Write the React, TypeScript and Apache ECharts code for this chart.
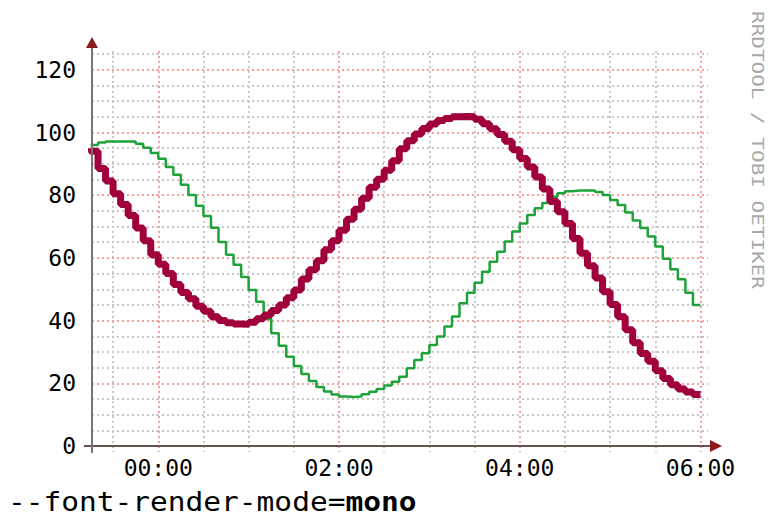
import React, { useEffect, useRef } from "react";
import * as echarts from "echarts";

// minutes relative to 00:00, one sample every 5 minutes
const TIMES = [
  -45, -40, -35, -30, -25, -20, -15, -10, -5, 0, 5, 10, 15, 20, 25, 30, 35, 40, 45, 50,
  55, 60, 65, 70, 75, 80, 85, 90, 95, 100, 105, 110, 115, 120, 125, 130, 135, 140, 145, 150,
  155, 160, 165, 170, 175, 180, 185, 190, 195, 200, 205, 210, 215, 220, 225, 230, 235, 240, 245, 250,
  255, 260, 265, 270, 275, 280, 285, 290, 295, 300, 305, 310, 315, 320, 325, 330, 335, 340, 345, 350,
  355, 360,
];

const RED_VALUES = [
  95, 94, 88.5, 84.5, 80.5, 77, 73.5, 69.5, 65.5, 61, 58, 55, 51.5, 49, 47, 44.6, 43, 41.2, 40, 39.3,
  38.9, 38.8, 39.5, 40.6, 41.8, 43.2, 45, 47.3, 49.8, 53.3, 56.2, 59.1, 62.6, 65.5, 68.8, 72.3, 75.5, 79, 82.5, 85.1,
  88, 91, 94.8, 97.4, 99.5, 101.3, 102.7, 103.8, 104.5, 105, 105.1, 105, 104.2, 102.8, 101.2, 99.4, 97.2, 94.5, 91.7, 89,
  85.8, 82, 78, 74.7, 71, 66.2, 61.5, 57.5, 53.6, 49.2, 45.1, 41.2, 37.1, 32.9, 29.5, 27, 24, 21.5, 19.5, 18.2,
  17.2, 16.4,
];

const GREEN_VALUES = [
  96, 96, 96.8, 97.1, 97.1, 97.1, 97.1, 96.4, 95.1, 93.5, 91.6, 89, 86.5, 83.3, 80.1, 76.6, 73.4, 69.6, 65.1, 61,
  57.8, 53.9, 49.8, 46, 40.5, 36, 32, 28.5, 25.5, 23, 20.7, 18.8, 17.4, 16.4, 15.8, 15.6, 15.8, 16.5, 17.3, 18.2,
  19.3, 20.5, 22.1, 24.8, 27.4, 29.6, 32.2, 34.9, 38.1, 41.3, 45.5, 48.9, 52.1, 55.6, 58.8, 62, 65.2, 68.4, 71, 73.7,
  75.8, 77.5, 79.5, 80.6, 81.3, 81.5, 81.5, 81.5, 81, 80.1, 78.5, 76.9, 74.5, 71.9, 69.5, 66.8, 63.6, 59.7, 56.4, 53.2,
  48.9, 45,
];

const X_MAJOR = [0, 120, 240, 360];
const X_LABELS = ["00:00", "02:00", "04:00", "06:00"];
const X_MINOR = [-30, 30, 60, 90, 150, 180, 210, 270, 300, 330];
const Y_MAJOR = [0, 20, 40, 60, 80, 100, 120];
const Y_LABELS = ["0", "20", "40", "60", "80", "100", "120"];
const Y_MINOR = [5, 10, 15, 25, 30, 35, 45, 50, 55, 65, 70, 75, 85, 90, 95, 105, 110, 115, 125];

const X_MIN = -44;
const X_MAX = 365;
const Y_MIN = 0;
const Y_MAX = 126;

const FOOTER_PLAIN = "--font-render-mode=";
const FOOTER_BOLD = "mono";
const WATERMARK = "RRDTOOL / TOBI OETIKER";

const W = 768;
const H = 516;
const GRID_LEFT = 92;
const GRID_RIGHT_X = 708;
const GRID_TOP = 51;
const GRID_BOTTOM_Y = 446;

const MONO = '"DejaVu Sans Mono", "Liberation Mono", monospace';
const RED = "#a0003c";
const GREEN = "#1fa23a";
const MINOR_GRID = "#c8c8c8";
const MAJOR_GRID = "#f2a0a0";
const DASH = [2, 3];

export default function App() {
  const ref = useRef<HTMLDivElement>(null);

  useEffect(() => {
    if (!ref.current) return;
    const chart = echarts.init(ref.current, undefined, { renderer: "svg" });

    const minorLine = { color: MINOR_GRID, width: 2, type: DASH };
    const majorLine = { color: MAJOR_GRID, width: 2, type: DASH };

    const option: any = {
      animation: false,
      backgroundColor: "#ffffff",
      grid: {
        left: GRID_LEFT,
        right: W - GRID_RIGHT_X,
        top: GRID_TOP,
        bottom: H - GRID_BOTTOM_Y,
        containLabel: false,
      },
      xAxis: [
        {
          type: "value",
          min: X_MIN,
          max: X_MAX,
          position: "bottom",
          axisLine: { show: false },
          axisTick: { show: true, length: 6, customValues: X_MAJOR, lineStyle: majorLine },
          axisLabel: {
            customValues: X_MAJOR,
            formatter: (v: number) => {
              const i = X_MAJOR.indexOf(v);
              return i >= 0 ? X_LABELS[i] : "";
            },
            fontFamily: MONO,
            fontSize: 23,
            color: "#000",
            margin: 10,
          },
          splitLine: { show: true, lineStyle: majorLine },
          z: 1,
        },
        {
          type: "value",
          min: X_MIN,
          max: X_MAX,
          position: "bottom",
          axisLine: { show: false },
          axisTick: { show: true, length: 6, customValues: X_MINOR, lineStyle: minorLine },
          axisLabel: { show: false, customValues: X_MINOR },
          splitLine: { show: true, lineStyle: minorLine },
          z: 0,
        },
      ],
      yAxis: [
        {
          type: "value",
          min: Y_MIN,
          max: Y_MAX,
          position: "left",
          axisLine: { show: false },
          axisTick: { show: true, length: 6, customValues: Y_MAJOR, lineStyle: majorLine },
          axisLabel: {
            customValues: Y_MAJOR,
            formatter: (v: number) => {
              const i = Y_MAJOR.indexOf(v);
              return i >= 0 ? Y_LABELS[i] : "";
            },
            fontFamily: MONO,
            fontSize: 23,
            color: "#000",
            margin: 16,
          },
          splitLine: { show: true, lineStyle: majorLine },
          z: 1,
        },
        {
          type: "value",
          min: Y_MIN,
          max: Y_MAX,
          position: "left",
          axisLine: { show: false },
          axisTick: { show: true, length: 6, customValues: Y_MINOR, lineStyle: minorLine },
          axisLabel: { show: false, customValues: Y_MINOR },
          splitLine: { show: true, lineStyle: minorLine },
          z: 0,
        },
      ],
      series: [
        {
          name: "green",
          type: "line",
          step: "start",
          xAxisIndex: 0,
          yAxisIndex: 0,
          showSymbol: false,
          symbol: "none",
          clip: true,
          lineStyle: { color: GREEN, width: 2.5 },
          data: TIMES.map((t, i) => [t, GREEN_VALUES[i]]),
          z: 3,
        },
        {
          name: "red",
          type: "line",
          step: "start",
          xAxisIndex: 0,
          yAxisIndex: 0,
          showSymbol: false,
          symbol: "none",
          clip: true,
          lineStyle: { color: RED, width: 7 },
          data: TIMES.map((t, i) => [t, RED_VALUES[i]]),
          z: 4,
        },
      ],
      graphic: [
        {
          type: "line",
          z: 50,
          shape: { x1: GRID_LEFT - 8, y1: GRID_BOTTOM_Y, x2: GRID_RIGHT_X + 4, y2: GRID_BOTTOM_Y },
          style: { stroke: "#6b5050", lineWidth: 2 },
        },
        {
          type: "polygon",
          z: 51,
          shape: {
            points: [
              [GRID_RIGHT_X + 2, GRID_BOTTOM_Y - 6],
              [GRID_RIGHT_X + 14, GRID_BOTTOM_Y],
              [GRID_RIGHT_X + 2, GRID_BOTTOM_Y + 6],
            ],
          },
          style: { fill: "#8b1a1a" },
        },
        {
          type: "line",
          z: 50,
          shape: { x1: GRID_LEFT, y1: GRID_BOTTOM_Y + 7, x2: GRID_LEFT, y2: GRID_TOP - 5 },
          style: { stroke: "#757575", lineWidth: 2 },
        },
        {
          type: "polygon",
          z: 51,
          shape: {
            points: [
              [GRID_LEFT - 6, GRID_TOP - 3],
              [GRID_LEFT, GRID_TOP - 14],
              [GRID_LEFT + 6, GRID_TOP - 3],
            ],
          },
          style: { fill: "#8b1a1a" },
        },
        {
          type: "text",
          z: 60,
          x: 8,
          y: 502,
          scaleX: 1.135,
          style: {
            text: "{a|" + FOOTER_PLAIN + "}{b|" + FOOTER_BOLD + "}",
            verticalAlign: "middle",
            align: "left",
            rich: {
              a: { fontFamily: MONO, fontSize: 26, lineHeight: 22, fill: "#000", fontWeight: "normal" },
              b: { fontFamily: MONO, fontSize: 26, lineHeight: 22, fill: "#000", fontWeight: "bold" },
            },
          },
        },
        {
          type: "text",
          z: 60,
          x: 757,
          y: 150,
          rotation: -Math.PI / 2,
          scaleX: 1.4,
          style: {
            text: WATERMARK,
            align: "center",
            verticalAlign: "middle",
            fill: "#a8a8a8",
            fontFamily: MONO,
            fontSize: 15,
          },
        },
      ],
    };

    chart.setOption(option);
    return () => chart.dispose();
  }, []);

  return (
    <div
      ref={ref}
      style={{ position: "absolute", left: 0, top: 0, width: W, height: H, background: "#fff" }}
    />
  );
}
